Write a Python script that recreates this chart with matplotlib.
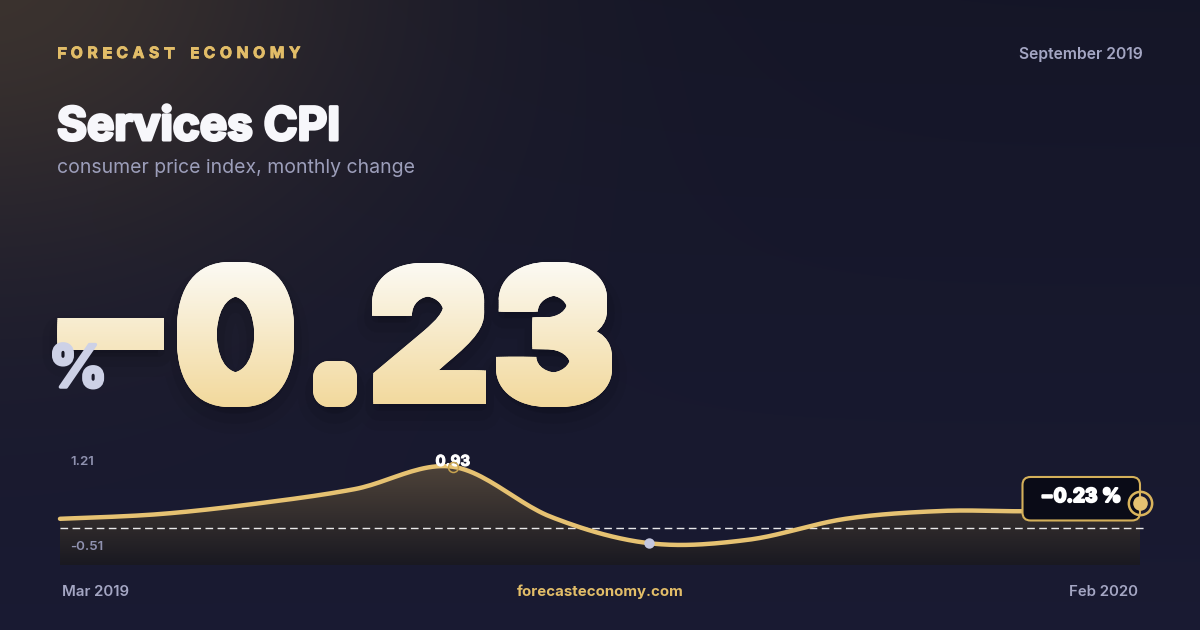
import numpy as np
import matplotlib
matplotlib.use("Agg")
import matplotlib.pyplot as plt
import matplotlib.patheffects as pe
from matplotlib.font_manager import FontProperties
from matplotlib.textpath import TextPath
from matplotlib.patches import PathPatch, FancyBboxPatch
from matplotlib.path import Path
from matplotlib.transforms import Affine2D

# --- data ---
months = ["Mar 2019", "Apr 2019", "May 2019", "Jun 2019", "Jul 2019", "Aug 2019",
          "Sep 2019", "Oct 2019", "Nov 2019", "Dec 2019", "Jan 2020", "Feb 2020"]
values = [0.14, 0.21, 0.37, 0.59, 0.93, 0.17, -0.23, -0.18, 0.14, 0.26, 0.26, 0.38]
axis_top_label = "1.21"
axis_bottom_label = "-0.51"
headline = "\u22120.23"
latest_label = "\u22120.23 %"
brand = "FORECAST ECONOMY"
period = "September 2019"
title = "Services CPI"
subtitle = "consumer price index, monthly change"
site = "forecasteconomy.com"

GOLD = "#e6c272"
GOLD_TXT = "#e2bd68"
GREY = "#a4a6c3"
FONT = "Inter"

W, H = 1200, 630
fig = plt.figure(figsize=(12, 6.3), dpi=100)

# background: navy with a warm glow in the top-left corner
bg = fig.add_axes([0, 0, 1, 1])
bg.axis("off")
yy, xx = np.mgrid[0:H, 0:W]
top = np.array([0.082, 0.086, 0.155])
bot = np.array([0.100, 0.104, 0.198])
t = (yy / H)[..., None]
img = top * (1 - t) + bot * t
d = np.sqrt((xx + 20.0) ** 2 + ((yy + 30.0) * 1.35) ** 2)
glow = (0.95 * np.exp(-(d / 400.0) ** 2))[..., None]
warm = np.array([0.240, 0.205, 0.185])
img = img * (1 - glow) + warm * glow
bg.imshow(img, extent=(0, W, H, 0), aspect="auto")
bg.set_xlim(0, W)
bg.set_ylim(H, 0)

# --- sparkline ---
def catmull_rom(x, y, n=24):
    p = np.column_stack([x, y]).astype(float)
    p = np.vstack([p[0], p, p[-1]])
    out = []
    s = np.linspace(0, 1, n, endpoint=False)[:, None]
    for i in range(1, len(p) - 2):
        p0, p1, p2, p3 = p[i - 1], p[i], p[i + 1], p[i + 2]
        seg = 0.5 * (2 * p1 + (-p0 + p2) * s + (2 * p0 - 5 * p1 + 4 * p2 - p3) * s ** 2
                     + (-p0 + 3 * p1 - 3 * p2 + p3) * s ** 3)
        out.append(seg)
    out.append(p[-2][None, :])
    out = np.vstack(out)
    return out[:, 0], out[:, 1]

ymin, ymax = -0.561, 1.108
ch = fig.add_axes([60 / W, 65 / H, 1080 / W, 110 / H])
ch.patch.set_alpha(0)
ch.axis("off")

x = np.arange(len(values))
sx, sy = catmull_rom(x, values)

# gradient fill under the line
verts = np.vstack([np.column_stack([sx, sy]), [[sx[-1], ymin], [sx[0], ymin]]])
clip = PathPatch(Path(verts), facecolor="none", edgecolor="none")
ch.add_patch(clip)
g = np.linspace(0, 1, 200)[:, None, None]
c_top = np.array([0.305, 0.262, 0.225])
c_bot = np.array([0.100, 0.098, 0.130])
grad = np.repeat(c_top * (1 - g) + c_bot * g, 2, axis=1)
fill = ch.imshow(grad, extent=(0, len(values) - 1, ymin, max(values)),
                 aspect="auto", origin="upper", zorder=1)
fill.set_clip_path(clip)
ch.set_xlim(0, len(values) - 1)
ch.set_ylim(ymin, ymax)

ch.axhline(0, xmin=0, xmax=1.006, color="white", lw=1.0, dashes=(5.5, 3.2),
           alpha=0.9, zorder=2, clip_on=False)
ch.plot(sx, sy, color=GOLD, lw=3.2, solid_capstyle="round", zorder=3, clip_on=False)

ipk = int(np.argmax(values))
imn = int(np.argmin(values))
ilast = len(values) - 1
ch.annotate(f"{values[ipk]:.2f}", (ipk, values[ipk]), xytext=(0, 3.5),
            textcoords="offset points", ha="center", va="center",
            fontsize=10.8, fontweight="bold", color="white", family=FONT, zorder=5,
            path_effects=[pe.withStroke(linewidth=0.8, foreground="white")])
ch.plot(ipk, values[ipk], "o", ms=7.2, mfc="none", mec="#c9a44f", mew=1.1,
        zorder=6, clip_on=False)
ch.plot(imn, values[imn], "o", ms=7.5, mfc="#c4c7de", mec="none", zorder=6, clip_on=False)

# --- overlay in pixel coordinates ---
ov = fig.add_axes([0, 0, 1, 1])
ov.patch.set_alpha(0)
ov.axis("off")
ov.set_xlim(0, W)
ov.set_ylim(H, 0)

# callout box for the latest value, placed from the last point's pixel position
lx, ly_disp = ch.transData.transform((ilast, values[ilast]))
ly = H - ly_disp
ov.add_patch(FancyBboxPatch((lx - 117.5, ly - 26), 117.5, 43.5,
                            boxstyle="round,pad=0,rounding_size=8",
                            fc="#0a0b17", ec="#d4b05a", lw=1.5, zorder=7))
ov.text(lx - 59, ly - 6, latest_label, fontsize=13.8, fontweight="bold", color="white",
        family=FONT, ha="center", va="center", zorder=8,
        path_effects=[pe.withStroke(linewidth=1.5, foreground="white")])
ov.plot(lx, ly, "o", ms=16.8, mfc="none", mec="#d9b45c", mew=1.8, zorder=9)
ov.plot(lx, ly, "o", ms=10.5, mfc=GOLD, mec="none", zorder=9)

# letter-spaced brand
fig.canvas.draw()
rend = fig.canvas.get_renderer()
cx = 57
for chr_ in brand:
    if chr_ == " ":
        cx += 10.5
        continue
    tx = ov.text(cx, 53.5, chr_, fontsize=11.3, fontweight="bold", color=GOLD_TXT,
                 family=FONT, ha="left", va="center",
                 path_effects=[pe.withStroke(linewidth=0.6, foreground=GOLD_TXT)])
    cx += tx.get_window_extent(rend).width + 4.6

ov.text(1143, 54, period, fontsize=11.3, fontweight="semibold", color=GREY,
        family=FONT, ha="right", va="center")
ov.text(57, 140, title, fontsize=33, fontweight="bold", color="#f7f7fb",
        family=FONT, ha="left", va="baseline",
        path_effects=[pe.withStroke(linewidth=2.2, foreground="#f7f7fb")])
ov.text(57, 173, subtitle, fontsize=14, color="#9c9eba", family=FONT,
        ha="left", va="baseline")

# big headline number: each glyph fitted to its box, emboldened, vertical gradient
fp = FontProperties(family=FONT, weight="bold")
glyph_boxes = [(57.6, 164, 318, 350), (177, 294, 262, 407), (313, 357, 361, 407),
               (372, 486, 263, 404), (496, 612, 262, 407)]
rb = 6.0
paths = []
for gch, (x0, x1, y0, y1) in zip(headline, glyph_boxes):
    tp = TextPath((0, 0), gch, size=200, prop=fp)
    e = tp.get_extents()
    tr = (Affine2D().translate(-e.x0, -e.y1)
          .scale((x1 - x0 - 2 * rb) / e.width, -(y1 - y0 - 2 * rb) / e.height)
          .translate(x0 + rb, y0 + rb))
    paths.append(tr.transform_path(tp))
big = Path.make_compound_path(*paths)

for lw, a, dy in [(30, 0.035, 12), (20, 0.05, 9), (10, 0.07, 6)]:
    sh = Affine2D().translate(0, dy).transform_path(big)
    ov.add_patch(PathPatch(sh, fc="black", ec="black", lw=lw, alpha=a,
                           joinstyle="round", zorder=2))

gg = np.linspace(0, 1, 256)[:, None, None]
g_top = np.array([0.988, 0.984, 0.965])
g_bot = np.array([0.949, 0.847, 0.604])
gimg = np.repeat(g_top * (1 - gg) + g_bot * gg, 2, axis=1)
# square Minkowski offsets keep straight corners sharp
steps = np.linspace(-rb, rb, 7)
offs = [(0.0, 0.0)]
for s_ in steps:
    offs += [(s_, -rb), (s_, rb), (-rb, s_), (rb, s_)]
for ox, oy in offs:
    pp = PathPatch(Affine2D().translate(ox, oy).transform_path(big),
                   fc="none", ec="none", zorder=3)
    ov.add_patch(pp)
    gi = ov.imshow(gimg, extent=(50, 620, 410, 258), aspect="auto",
                   origin="upper", zorder=3)
    gi.set_clip_path(pp)

ov.text(78, 372, "%", fontsize=42, fontweight="bold", color="#cdd1e6",
        family=FONT, ha="center", va="center", zorder=4,
        path_effects=[pe.withStroke(linewidth=2.5, foreground="#cdd1e6")])

# axis labels of the sparkline
ov.text(70, 462, axis_top_label, fontsize=9.6, fontweight="semibold", color="#9092b0",
        family=FONT, ha="left", va="center")
ov.text(70, 547, axis_bottom_label, fontsize=9.6, fontweight="semibold", color="#9092b0",
        family=FONT, ha="left", va="center")

# footer
ov.text(62, 592, months[0], fontsize=10.8, fontweight="semibold", color=GREY,
        family=FONT, ha="left", va="center")
ov.text(600, 592, site, fontsize=10.8, fontweight="bold", color=GOLD_TXT,
        family=FONT, ha="center", va="center")
ov.text(1138, 592, months[-1], fontsize=10.8, fontweight="semibold", color=GREY,
        family=FONT, ha="right", va="center")

ov.set_xlim(0, W)
ov.set_ylim(H, 0)
fig.savefig("out.png", dpi=100)
